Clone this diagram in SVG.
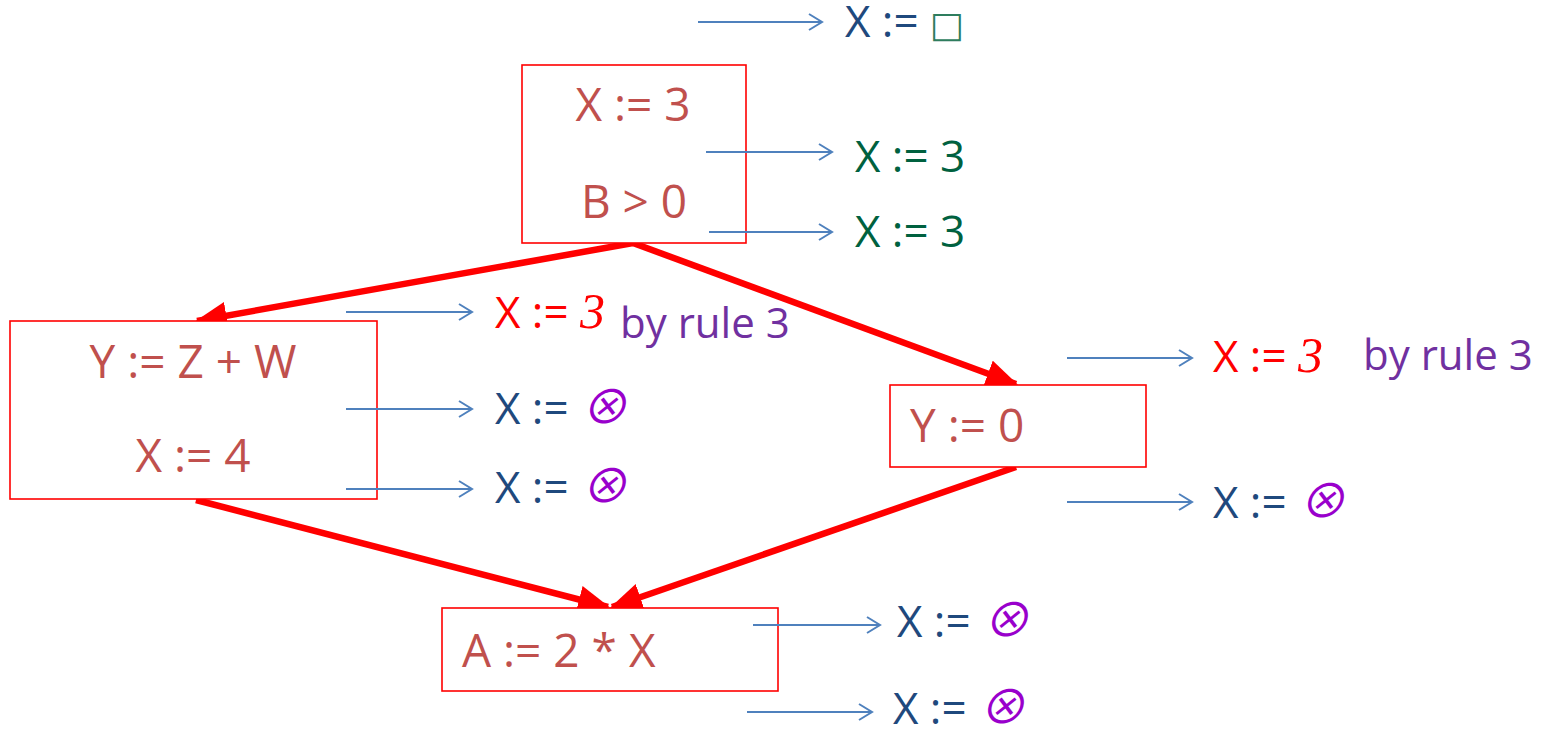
<svg xmlns="http://www.w3.org/2000/svg" width="1546" height="730" viewBox="0 0 1546 730">
<defs>
<marker id="redHead" markerUnits="userSpaceOnUse" markerWidth="32" markerHeight="28" viewBox="0 0 30 26" refX="28" refY="13" orient="auto">
<path d="M0,0 L30,13 L0,26 Z" fill="#ff0000"/>
</marker>
<marker id="blueHead" markerUnits="userSpaceOnUse" markerWidth="20" markerHeight="20" viewBox="0 0 16 20" refX="15" refY="10" orient="auto">
<path d="M2,2 L15,10 L2,18" fill="none" stroke="#4f81bd" stroke-width="2"/>
</marker>
<style>
.box{fill:#fff;stroke:#ff0000;stroke-width:1.6}
.bt{font-family:"Open Sans","Liberation Sans",sans-serif;font-size:46px;fill:#c0504d}
.t{font-family:"Open Sans","Liberation Sans",sans-serif;font-size:44px}
.dk{fill:#1f497d}
.gr{fill:#00613f}
.rd{fill:#ff0000}
.pu{fill:#7030a0}
.it{font-family:"Liberation Serif",serif;font-style:italic;font-size:50px}
.ot{font-family:"Noto Sans CJK JP","DejaVu Sans",sans-serif;font-style:italic;font-weight:400;fill:#9900cc;font-size:47px}
.edge{stroke:#ff0000;stroke-width:6.5;fill:none;marker-end:url(#redHead)}
.ann{stroke:#4f81bd;stroke-width:2;fill:none;marker-end:url(#blueHead)}
</style>
</defs>
<g id="edges">
<line class="edge" x1="633" y1="243" x2="197" y2="321"/>
<line class="edge" x1="633" y1="243" x2="1016" y2="384"/>
<line class="edge" x1="196" y1="500" x2="608" y2="607"/>
<line class="edge" x1="1016" y1="467" x2="612" y2="607"/>
</g>
<g id="node-top">
<rect class="box" x="522" y="65" width="224" height="178"/>
<text class="bt" x="633" y="121" text-anchor="middle">X := 3</text>
<text class="bt" x="634" y="218" text-anchor="middle">B &gt; 0</text>
</g>
<g id="node-left">
<rect class="box" x="10" y="321" width="367" height="178"/>
<text class="bt" x="193" y="378" text-anchor="middle">Y := Z + W</text>
<text class="bt" x="193" y="472" text-anchor="middle">X := 4</text>
</g>
<g id="node-right">
<rect class="box" x="890" y="385" width="256" height="82"/>
<text class="bt" x="910" y="442">Y := 0</text>
</g>
<g id="node-bottom">
<rect class="box" x="442" y="608" width="336" height="83"/>
<text class="bt" x="462" y="667">A := 2 * X</text>
</g>
<g id="annotation-arrows">
<line class="ann" x1="698" y1="22" x2="822" y2="22"/>
<line class="ann" x1="706" y1="152" x2="832" y2="152"/>
<line class="ann" x1="709" y1="232" x2="832" y2="232"/>
<line class="ann" x1="346" y1="312" x2="472" y2="312"/>
<line class="ann" x1="346" y1="409" x2="472" y2="409"/>
<line class="ann" x1="346" y1="489" x2="472" y2="489"/>
<line class="ann" x1="1067" y1="358" x2="1192" y2="358"/>
<line class="ann" x1="1067" y1="502" x2="1192" y2="502"/>
<line class="ann" x1="753" y1="625" x2="880" y2="625"/>
<line class="ann" x1="747" y1="712" x2="872" y2="712"/>
</g>
<g id="labels">
<text class="t dk" x="845" y="37">X := <tspan style="fill:#2e7d5e;font-family:'DejaVu Sans',sans-serif;font-size:36px">□</tspan></text>
<text class="t gr" x="855" y="172">X := 3</text>
<text class="t gr" x="855" y="247">X := 3</text>
<text class="t rd" x="495" y="328">X := <tspan class="it">3</tspan></text>
<text class="t pu" x="620" y="338" style="font-size:42px">by rule 3</text>
<text class="t dk" x="495" y="424">X := <tspan class="ot">⊗</tspan></text>
<text class="t dk" x="495" y="503">X := <tspan class="ot">⊗</tspan></text>
<text class="t rd" x="1213" y="372">X := <tspan class="it">3</tspan></text>
<text class="t pu" x="1363" y="370" style="font-size:42px">by rule 3</text>
<text class="t dk" x="1213" y="518">X := <tspan class="ot">⊗</tspan></text>
<text class="t dk" x="897" y="637">X := <tspan class="ot">⊗</tspan></text>
<text class="t dk" x="893" y="724">X := <tspan class="ot">⊗</tspan></text>
</g>
</svg>
